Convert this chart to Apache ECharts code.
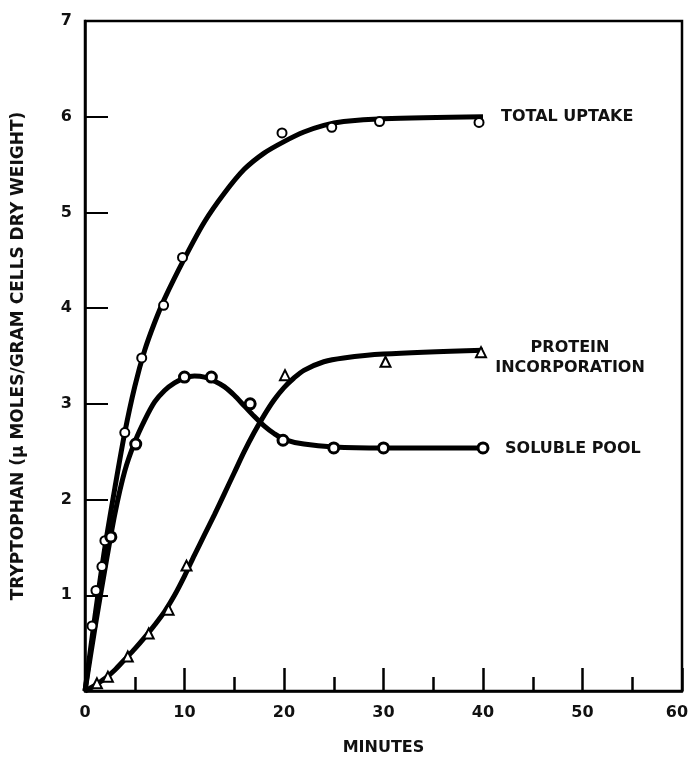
<!DOCTYPE html>
<html><head><meta charset="utf-8">
<script src="https://cdn.jsdelivr.net/npm/echarts@6/dist/echarts.min.js"></script>
<style>html,body{margin:0;padding:0;background:#fff}#c{width:688px;height:757px}</style>
</head><body><div id="c"></div>
<script>
const totalX = [0.7, 1.1, 1.7, 2.0, 4.0, 5.7, 7.9, 9.8, 19.8, 24.8, 29.6, 39.6];
const totalY = [0.68, 1.05, 1.30, 1.57, 2.70, 3.48, 4.03, 4.53, 5.83, 5.89, 5.95, 5.94];
const poolX = [2.6, 5.1, 10.0, 12.7, 16.6, 19.9, 25.0, 30.0, 40.0];
const poolY = [1.61, 2.58, 3.28, 3.28, 3.00, 2.62, 2.54, 2.54, 2.54];
const protX = [1.2, 2.3, 4.3, 6.4, 8.4, 10.2, 20.1, 30.2, 39.8];
const protY = [0.08, 0.15, 0.36, 0.60, 0.85, 1.31, 3.30, 3.44, 3.54];

// Fitted curves as traced on the reference
const totalCurveX = [0, 1, 2, 3, 4, 5, 6, 7, 8, 10, 12, 14, 16, 18, 20, 22, 24, 26, 30, 40];
const totalCurveY = [0, 0.78, 1.50, 2.12, 2.70, 3.18, 3.56, 3.85, 4.10, 4.52, 4.90, 5.20, 5.45, 5.62, 5.74, 5.84, 5.91, 5.95, 5.98, 6.00];
const poolCurveX = [0, 1, 2, 3, 4, 5, 6, 7, 8, 9, 10, 11, 12, 13, 14, 15, 16, 17, 18, 19, 20, 22, 25, 30, 40];
const poolCurveY = [0, 0.66, 1.27, 1.85, 2.30, 2.60, 2.83, 3.02, 3.14, 3.22, 3.27, 3.29, 3.28, 3.24, 3.18, 3.09, 2.98, 2.87, 2.77, 2.69, 2.63, 2.58, 2.55, 2.54, 2.54];
const protCurveX = [0, 1, 2, 3, 4, 5, 6, 7, 8, 9, 10, 11, 12, 13, 14, 15, 16, 17, 18, 19, 20, 21, 22, 24, 26, 30, 40];
const protCurveY = [0, 0.06, 0.13, 0.22, 0.33, 0.44, 0.56, 0.69, 0.83, 1.00, 1.20, 1.42, 1.63, 1.84, 2.06, 2.28, 2.50, 2.70, 2.88, 3.04, 3.17, 3.27, 3.35, 3.44, 3.48, 3.52, 3.56];

const xTickLabels = ['0', '10', '20', '30', '40', '50', '60'];
const yTickLabels = ['', '1', '2', '3', '4', '5', '6', '7'];
const seriesNames = ['TOTAL UPTAKE', 'PROTEIN\nINCORPORATION', 'SOLUBLE POOL'];
const xAxisTitle = 'MINUTES';
const yAxisTitle = 'TRYPTOPHAN (\u03bc MOLES/GRAM CELLS DRY WEIGHT)';

const zip = (xs, ys) => xs.map((x, i) => [x, ys[i]]);
const font = 'DejaVu Sans';
const chart = echarts.init(document.getElementById('c'), null, {renderer: 'canvas'});

function curve(name, xs, ys, label) {
  return {
    type: 'line', name: name, data: zip(xs, ys), smooth: 0.3, showSymbol: false, symbol: 'none',
    lineStyle: {color: '#000', width: 5}, color: '#000', z: 2, animation: false,
    endLabel: Object.assign({show: true, formatter: name,
      fontFamily: font, fontWeight: 'bold', fontSize: 16, color: '#111'}, label)
  };
}
function marks(name, xs, ys, symbol, size, border) {
  return {
    type: 'scatter', name: name, data: zip(xs, ys), symbol: symbol, symbolSize: size, z: 4,
    itemStyle: {color: '#fff', borderColor: '#000', borderWidth: border, opacity: 1}, animation: false
  };
}

chart.setOption({
  animation: false,
  backgroundColor: '#fff',
  grid: {left: 85, right: 6, top: 21, bottom: 66, containLabel: false, outerBoundsMode: 'none',
    show: true, borderColor: '#000', borderWidth: 2.5},
  xAxis: {
    type: 'value', min: 0, max: 60, interval: 10,
    name: xAxisTitle, nameLocation: 'middle', nameGap: 49,
    nameTextStyle: {fontFamily: font, fontWeight: 'bold', fontSize: 16, color: '#111'},
    axisLine: {lineStyle: {color: '#000', width: 2.5}},
    axisTick: {inside: true, length: 23, lineStyle: {color: '#000', width: 2.5}},
    minorTick: {show: true, splitNumber: 2, length: 14, lineStyle: {color: '#000', width: 2.5}},
    splitLine: {show: false},
    axisLabel: {margin: 14, fontFamily: font, fontWeight: 'bold', fontSize: 16, color: '#111',
      formatter: v => {
        const t = xTickLabels[Math.round(v / 10)];
        return v >= 60 ? '{last|' + t + '}' : t;
      },
      rich: {last: {fontFamily: font, fontWeight: 'bold', fontSize: 16, color: '#111', padding: [0, 10, 0, 0]}}}
  },
  yAxis: {
    type: 'value', min: 0, max: 7, interval: 1,
    name: yAxisTitle, nameLocation: 'middle', nameGap: 58,
    nameTextStyle: {fontFamily: font, fontWeight: 'bold', fontSize: 17, color: '#111'},
    axisLine: {lineStyle: {color: '#000', width: 2.5}},
    axisTick: {inside: true, length: 23, lineStyle: {color: '#000', width: 2}},
    splitLine: {show: false},
    axisLabel: {margin: 13, fontFamily: font, fontWeight: 'bold', fontSize: 16, color: '#111',
      formatter: v => yTickLabels[Math.round(v)]}
  },
  series: [
    curve(seriesNames[0], totalCurveX, totalCurveY, {offset: [10, 0]}),
    curve(seriesNames[1], protCurveX, protCurveY, {distance: 0, align: 'center', offset: [87, 8], lineHeight: 20}),
    curve(seriesNames[2], poolCurveX, poolCurveY, {offset: [14, 1]}),
    marks(seriesNames[0], totalX, totalY, 'circle', 9, 2),
    marks(seriesNames[1], protX, protY, 'triangle', 10, 2),
    marks(seriesNames[2], poolX, poolY, 'circle', 10, 3)
  ]
});
</script></body></html>
